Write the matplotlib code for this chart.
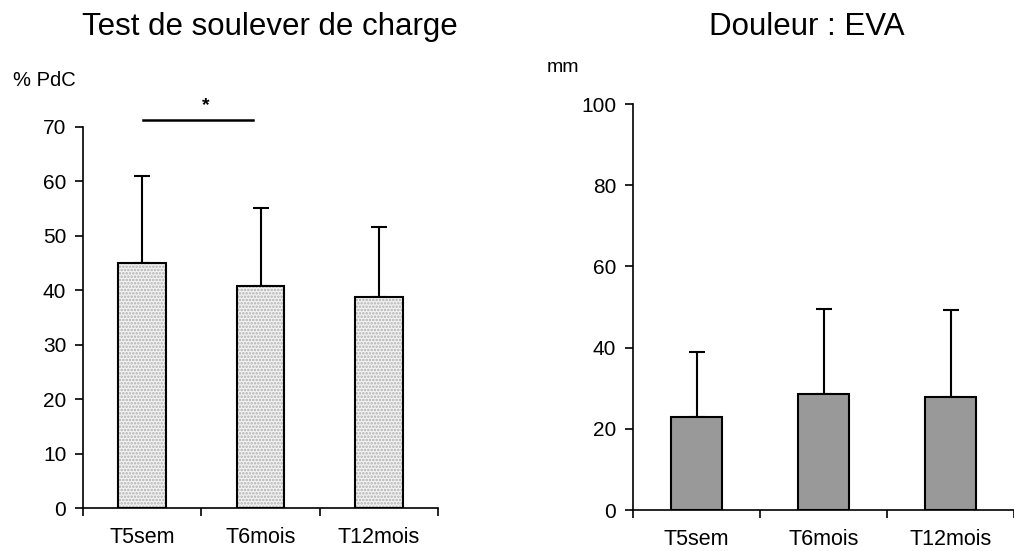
import numpy as np
import matplotlib
matplotlib.use("Agg")
import matplotlib.pyplot as plt

plt.rcParams['font.family'] = ['Liberation Sans', 'DejaVu Sans']
plt.rcParams['hatch.linewidth'] = 1.2

categories = ["T5sem", "T6mois", "T12mois"]

# Test de soulever de charge (% PdC)
charge_mean = [45.0, 40.7, 38.8]
charge_top = [61.0, 55.1, 51.7]

# Douleur : EVA (mm)
eva_mean = [23.0, 28.5, 27.8]
eva_top = [39.0, 49.5, 49.2]

fig = plt.figure(figsize=(10.14, 5.51), dpi=100)
ax1 = fig.add_axes([83 / 1014, 43 / 551, 355 / 1014, 381 / 551])
ax2 = fig.add_axes([633 / 1014, 41 / 551, 381 / 1014, 406 / 551])

x = np.arange(len(categories))


def style(ax, ymax, step):
    for s in ["top", "right"]:
        ax.spines[s].set_visible(False)
    ax.spines["left"].set_linewidth(1.2)
    ax.spines["bottom"].set_linewidth(1.2)
    ax.set_xlim(-0.5, len(categories) - 0.5)
    ax.set_ylim(0, ymax)
    ax.set_yticks(np.arange(0, ymax + 1, step))
    ax.tick_params(axis="y", direction="out", length=6, width=1.2, labelsize=15, pad=6)
    ax.set_xticks(x)
    ax.set_xticklabels(categories)
    ax.tick_params(axis="x", which="major", length=0, labelsize=15.5, pad=14)
    ax.set_xticks(np.arange(-0.5, len(categories), 1.0), minor=True)
    ax.tick_params(axis="x", which="minor", direction="out", length=6, width=1.2)


# left chart: dotted bars
ax1.bar(x, charge_mean, width=0.4, color="#f2f2f2", hatch=".....",
        edgecolor="#b0b0b0", linewidth=0, zorder=2)
ax1.bar(x, charge_mean, width=0.4, color="none", edgecolor="black",
        linewidth=1.5, zorder=3)
err1 = np.array(charge_top) - np.array(charge_mean)
ax1.errorbar(x, charge_mean, yerr=[np.zeros(3), err1], fmt="none",
             ecolor="black", elinewidth=1.5, capsize=5.5, capthick=1.5, zorder=1)
style(ax1, 70, 10)
fig.text(270 / 1014, 1 - 27 / 551, "Test de soulever de charge", fontsize=22.5,
         ha="center", va="center")
ax1.text(-0.197, 1.123, "% PdC", transform=ax1.transAxes, fontsize=14.5,
         ha="left", va="center")
ax1.plot([0.01, 0.94], [71.3, 71.3], color="black", lw=1.8, clip_on=False)
ax1.text(0.54, 74.0, "*", ha="center", va="center", fontsize=14, fontweight="bold")

# right chart: gray bars
ax2.bar(x, eva_mean, width=0.4, color="#999999", edgecolor="black",
        linewidth=1.5, zorder=3)
err2 = np.array(eva_top) - np.array(eva_mean)
ax2.errorbar(x, eva_mean, yerr=[np.zeros(3), err2], fmt="none",
             ecolor="black", elinewidth=1.5, capsize=5.5, capthick=1.5, zorder=1)
style(ax2, 100, 20)
fig.text(807 / 1014, 1 - 27 / 551, "Douleur : EVA", fontsize=22.5,
         ha="center", va="center")
ax2.text(-0.226, 1.09, "mm", transform=ax2.transAxes, fontsize=14,
         ha="left", va="center")

fig.savefig("out.png", dpi=100)
